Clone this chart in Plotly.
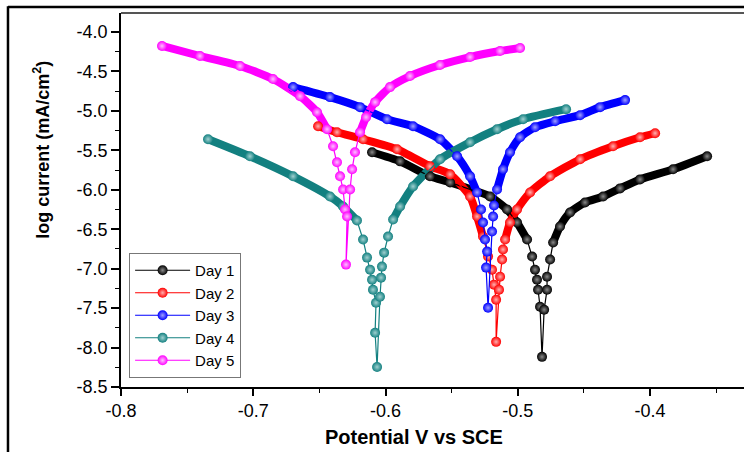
import plotly.graph_objects as go

# ---------------- data ----------------
series_names = ["Day 1", "Day 2", "Day 3", "Day 4", "Day 5"]

day1_x = [-0.6102, -0.5890, -0.5664, -0.5512, -0.5210, -0.5081, -0.5006, -0.4930, -0.4892,
          -0.4870, -0.4855, -0.4847, -0.4832, -0.4817,
          -0.4801, -0.4779, -0.4779, -0.4756, -0.4733, -0.4681, -0.4605, -0.4492, -0.4355,
          -0.4227, -0.4076, -0.3826, -0.3569]
day1_y = [-5.525, -5.640, -5.830, -5.907, -6.085, -6.250, -6.415, -6.631, -6.847,
          -7.013, -7.140, -7.267, -7.483, -8.118,
          -7.521, -7.267, -7.102, -6.885, -6.669, -6.466, -6.288, -6.161, -6.085,
          -5.983, -5.869, -5.741, -5.576]

day2_x = [-0.6510, -0.6367, -0.6170, -0.5913, -0.5664, -0.5512, -0.5361, -0.5308, -0.5263,
          -0.5225, -0.5195, -0.5180, -0.5164, -0.5164,
          -0.5142, -0.5134, -0.5119, -0.5112, -0.5096, -0.5059, -0.5006, -0.4907, -0.4756,
          -0.4529, -0.4280, -0.4076, -0.3962]
day2_y = [-5.195, -5.271, -5.360, -5.487, -5.703, -5.805, -6.085, -6.339, -6.593,
          -6.847, -7.013, -7.203, -7.394, -7.928,
          -7.267, -7.102, -6.885, -6.758, -6.631, -6.415, -6.250, -6.034, -5.830,
          -5.614, -5.449, -5.335, -5.284]

day3_x = [-0.6699, -0.6420, -0.6193, -0.5989, -0.5792, -0.5588, -0.5459, -0.5361, -0.5308,
          -0.5278, -0.5263, -0.5248, -0.5232, -0.5240, -0.5225,
          -0.5195, -0.5187, -0.5180, -0.5157, -0.5112, -0.5059, -0.4983, -0.4870, -0.4718,
          -0.4529, -0.4378, -0.4189]
day3_y = [-4.699, -4.826, -4.953, -5.106, -5.195, -5.360, -5.576, -5.830, -6.034,
          -6.250, -6.415, -6.631, -6.784, -6.987, -7.496,
          -6.530, -6.339, -6.199, -5.996, -5.741, -5.525, -5.335, -5.208, -5.131,
          -5.055, -4.953, -4.864]

day4_x = [-0.7342, -0.7025, -0.6699, -0.6420, -0.6321, -0.6216, -0.6170, -0.6140, -0.6117,
          -0.6102, -0.6095, -0.6072, -0.6079, -0.6064,
          -0.6042, -0.6034, -0.6027, -0.6011, -0.5981, -0.5943, -0.5890, -0.5792, -0.5588,
          -0.5361, -0.5157, -0.4960, -0.4635]
day4_y = [-5.360, -5.576, -5.830, -6.085, -6.212, -6.390, -6.631, -6.860, -7.013,
          -7.140, -7.267, -7.432, -7.813, -8.246,
          -7.356, -7.114, -6.974, -6.797, -6.593, -6.377, -6.212, -5.958, -5.614,
          -5.398, -5.233, -5.106, -4.979]

day5_x = [-0.7690, -0.7403, -0.7100, -0.6851, -0.6646, -0.6518, -0.6442, -0.6397, -0.6367,
          -0.6344, -0.6321, -0.6306, -0.6291, -0.6299,
          -0.6268, -0.6253, -0.6231, -0.6193, -0.6147, -0.6079, -0.5966, -0.5815, -0.5588,
          -0.5361, -0.5134, -0.4983]
day5_y = [-4.178, -4.305, -4.432, -4.597, -4.814, -5.017, -5.233, -5.449, -5.652,
          -5.830, -5.996, -6.250, -6.339, -6.949,
          -5.996, -5.741, -5.525, -5.271, -5.080, -4.890, -4.699, -4.559, -4.419,
          -4.318, -4.242, -4.203]

x_ticks = [-0.8, -0.7, -0.6, -0.5, -0.4]
x_tick_text = ["-0.8", "-0.7", "-0.6", "-0.5", "-0.4"]
y_ticks = [-4.0, -4.5, -5.0, -5.5, -6.0, -6.5, -7.0, -7.5, -8.0, -8.5]
y_tick_text = ["-4.0", "-4.5", "-5.0", "-5.5", "-6.0", "-6.5", "-7.0", "-7.5", "-8.0", "-8.5"]

# ---------------- styles ----------------
colors = ["#000000", "#ff0000", "#0000ff", "#138080", "#ff00ff"]
centers = ["#8a8a8a", "#ffb0b0", "#a0a0ff", "#a0d0d0", "#ffc0ff"]
band_cut = [-6.75, -6.65, -6.1, -6.5, -5.3]   # below this the beads separate
FONT = "Liberation Sans, Arial, sans-serif"

all_x = [day1_x, day2_x, day3_x, day4_x, day5_x]
all_y = [day1_y, day2_y, day3_y, day4_y, day5_y]

fig = go.Figure()

# thick band (dense overlapping markers look like a solid band)
for xs, ys, col, cut in zip(all_x, all_y, colors, band_cut):
    imin = ys.index(min(ys))
    bx, by = [], []
    for i in range(imin):
        if ys[i] >= cut:
            bx.append(xs[i]); by.append(ys[i])
    bx.append(None); by.append(None)
    for i in range(imin + 1, len(ys)):
        if ys[i] >= cut:
            bx.append(xs[i]); by.append(ys[i])
    fig.add_trace(go.Scatter(x=bx, y=by, mode="lines", showlegend=False,
                             line=dict(color=col, width=8, shape="spline", smoothing=0.6),
                             hoverinfo="skip"))

# markers + thin connecting line
for name, xs, ys, col, cen in zip(series_names, all_x, all_y, colors, centers):
    fig.add_trace(go.Scatter(x=xs, y=ys, mode="lines+markers", name=name,
                             line=dict(color=col, width=1.2),
                             marker=dict(color=col, size=10, symbol="circle",
                                         gradient=dict(type="radial", color=cen),
                                         line=dict(width=0))))

# outer frame of the picture (left and top)
fig.add_shape(type="line", xref="paper", yref="paper", x0=-0.1814, x1=-0.1814, y0=-0.2, y1=1.018,
              line=dict(color="black", width=2.5))
fig.add_shape(type="line", xref="paper", yref="paper", x0=-0.1814, x1=1.05, y0=1.016, y1=1.016,
              line=dict(color="black", width=2.5))
# top axis line (grey)
fig.add_shape(type="line", xref="paper", yref="paper", x0=0, x1=1.05, y0=1.0, y1=1.0,
              line=dict(color="#555555", width=2))

fig.add_annotation(text="log current (mA/cm<sup>2</sup>)", xref="paper", yref="paper",
                   x=-0.127, y=0.634, xanchor="center", yanchor="middle",
                   showarrow=False, textangle=-90,
                   font=dict(family=FONT, size=18, color="black", weight="bold"))
fig.add_annotation(text="Potential V vs SCE", xref="paper", yref="paper",
                   x=0.470, y=-0.134, xanchor="center", yanchor="middle", showarrow=False,
                   font=dict(family=FONT, size=20, color="black", weight="bold"))

fig.update_layout(
    width=744, height=452,
    margin=dict(l=121, r=0, t=13, b=65),
    paper_bgcolor="white", plot_bgcolor="white",
    font=dict(family=FONT, size=18, color="black"),
    showlegend=True,
    legend=dict(x=0.013, y=0.024, xanchor="left", yanchor="bottom",
                bgcolor="white", bordercolor="#777777", borderwidth=1,
                font=dict(family=FONT, size=15, color="black"),
                tracegroupgap=0, itemwidth=55),
)
fig.update_xaxes(range=[-0.8, -0.329], tickvals=x_ticks, ticktext=x_tick_text,
                 showgrid=False, zeroline=False, showline=True, linecolor="black", linewidth=1.5,
                 ticks="outside", ticklen=7, tickwidth=1.5, tickcolor="black",
                 minor=dict(dtick=0.05, tick0=-0.8, ticks="outside", ticklen=4, tickwidth=1.2,
                            tickcolor="black", showgrid=False))
fig.update_yaxes(range=[-8.5, -3.76], tickvals=y_ticks, ticktext=y_tick_text,
                 showgrid=False, zeroline=False, showline=True, linecolor="black", linewidth=1.5,
                 ticks="outside", ticklen=8, tickwidth=1.5, tickcolor="black",
                 minor=dict(dtick=0.25, tick0=-8.5, ticks="outside", ticklen=4, tickwidth=1.2,
                            tickcolor="black", showgrid=False))

fig.write_html("out.html")
